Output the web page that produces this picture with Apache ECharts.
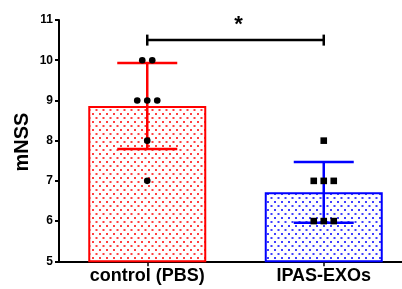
<!DOCTYPE html>
<html><head><meta charset="utf-8">
<script src="https://cdn.jsdelivr.net/npm/echarts@6/dist/echarts.min.js"></script>
<style>html,body{margin:0;padding:0;background:#fff}#c{width:402px;height:289px}</style>
</head><body><div id="c"></div>
<script>
var categories = ['control (PBS)', 'IPAS-EXOs'];
var barValues = [8.86, 6.72];
var errUpper = [9.93, 7.47];
var errLower = [7.79, 5.96];
var pointsControl = [10, 10, 9, 9, 9, 8, 7];
var pointsExos = [8, 7, 7, 7, 6, 6, 6];
var pointOffsetsControl = [-5, 5, -10, 0, 10, 0, 0];
var pointOffsetsExos = [0, -10, 0, 10, -10, 0, 10];
var yTicks = [5, 6, 7, 8, 9, 10, 11];
var yAxisTitle = 'mNSS';
var sigLevel = 10.5;
var colors = ['#ff0000', '#0000ff'];

function makePattern(col) {
  var c = document.createElement('canvas');
  c.width = 7; c.height = 8;
  var g = c.getContext('2d');
  g.fillStyle = '#fff'; g.fillRect(0, 0, 7, 8);
  g.fillStyle = col;
  g.globalAlpha = 0.75;
  g.fillRect(1, 1, 2, 2);
  g.fillRect(4.5, 5, 2, 2);
  return c;
}

var pointData = [];
pointsControl.forEach(function (v, i) { pointData.push([0, v, pointOffsetsControl[i]]); });
pointsExos.forEach(function (v, i) { pointData.push([1, v, pointOffsetsExos[i]]); });

var chart = echarts.init(document.getElementById('c'), null, {renderer: 'canvas'});
chart.setOption({
  animation: false,
  grid: {left: 59, top: 20, width: 353, height: 241.3, containLabel: false, outerBoundsMode: 'none'},
  graphic: [{
    type: 'text', x: 22, y: 142, rotation: Math.PI / 2,
    style: {text: yAxisTitle, align: 'center', verticalAlign: 'middle', fill: '#000',
      font: 'bold 20px Liberation Sans, Arial'}
  }],
  xAxis: {
    type: 'category', data: categories,
    axisLine: {lineStyle: {color: '#000', width: 2}},
    axisTick: {show: true, alignWithLabel: true, length: 5, lineStyle: {color: '#000', width: 1.5}},
    axisLabel: {color: '#000', fontWeight: 'bold', fontSize: 18, fontFamily: 'Liberation Sans, Arial', margin: 6}
  },
  yAxis: {
    type: 'value', min: 5, max: 11, interval: 1,
    splitLine: {show: false},
    axisLine: {show: true, lineStyle: {color: '#000', width: 2}},
    axisTick: {show: true, length: 4, lineStyle: {color: '#000', width: 2}},
    axisLabel: {color: '#000', fontWeight: 'bold', fontSize: 12, fontFamily: 'Liberation Sans, Arial', margin: 6,
      formatter: function (v) { return yTicks.indexOf(v) >= 0 ? String(v) : ''; }}
  },
  series: [
    {
      type: 'bar', barWidth: 118,
      data: barValues.map(function (v, i) {
        return {value: v, itemStyle: {color: {image: makePattern(colors[i]), repeat: 'repeat'}, borderColor: colors[i], borderWidth: 2}};
      }),
      z: 1
    },
    {
      type: 'custom', z: 3,
      data: categories.map(function (c, i) { return [i, errLower[i], errUpper[i]]; }),
      renderItem: function (params, api) {
        var i = api.value(0);
        var lo = api.coord([i, api.value(1)]);
        var hi = api.coord([i, api.value(2)]);
        var col = colors[i];
        var hw = 30;
        var st = {stroke: col, lineWidth: 2.5};
        return {type: 'group', children: [
          {type: 'line', shape: {x1: lo[0], y1: lo[1], x2: hi[0], y2: hi[1]}, style: st},
          {type: 'line', shape: {x1: lo[0] - hw, y1: lo[1], x2: lo[0] + hw, y2: lo[1]}, style: st},
          {type: 'line', shape: {x1: hi[0] - hw, y1: hi[1], x2: hi[0] + hw, y2: hi[1]}, style: st}
        ]};
      }
    },
    {
      type: 'custom', z: 4,
      data: pointData,
      renderItem: function (params, api) {
        var i = api.value(0);
        var p = api.coord([i, api.value(1)]);
        var x = p[0] + api.value(2);
        if (i === 0) {
          return {type: 'circle', shape: {cx: x, cy: p[1], r: 3.3}, style: {fill: '#000'}};
        }
        return {type: 'rect', shape: {x: x - 3.3, y: p[1] - 3.3, width: 6.6, height: 6.6}, style: {fill: '#000'}};
      }
    },
    {
      type: 'custom', z: 5,
      data: [[0, 1, sigLevel]],
      renderItem: function (params, api) {
        var a = api.coord([api.value(0), api.value(2)]);
        var b = api.coord([api.value(1), api.value(2)]);
        var st = {stroke: '#000', lineWidth: 2.5};
        return {type: 'group', children: [
          {type: 'line', shape: {x1: a[0], y1: a[1], x2: b[0], y2: b[1]}, style: st},
          {type: 'line', shape: {x1: a[0], y1: a[1] - 5.5, x2: a[0], y2: a[1] + 5.5}, style: st},
          {type: 'line', shape: {x1: b[0], y1: b[1] - 5.5, x2: b[0], y2: b[1] + 5.5}, style: st},
          {type: 'text', style: {text: '*', x: (a[0] + b[0]) / 2 + 3, y: a[1] - 15, align: 'center', verticalAlign: 'middle',
            font: 'bold 22px Liberation Sans, Arial', fill: '#000'}}
        ]};
      }
    }
  ]
});
</script></body></html>
